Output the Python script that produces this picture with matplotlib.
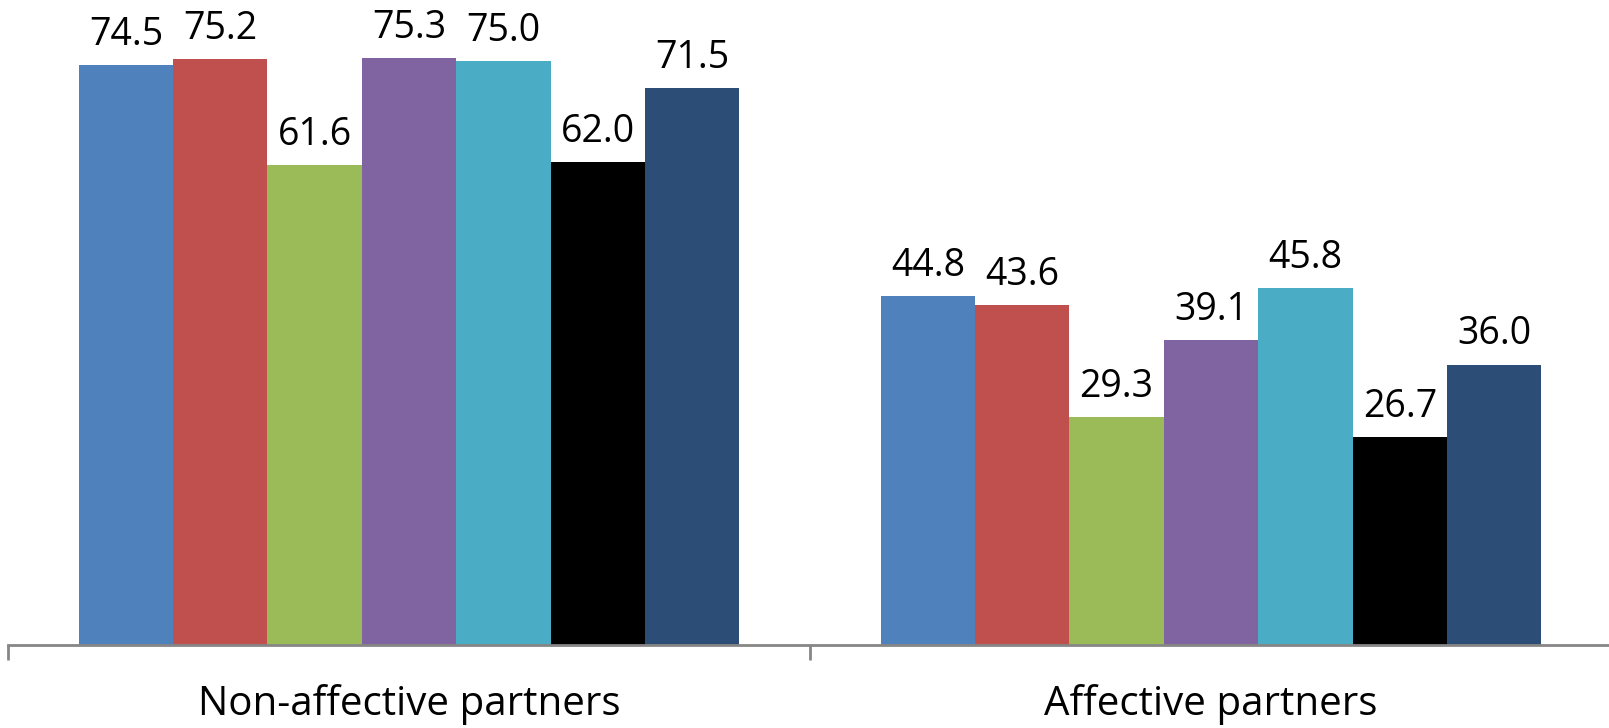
import numpy as np
import matplotlib.pyplot as plt

# Grouped bar chart: seven series over two partner types
categories = ['Non-affective partners', 'Affective partners']
series_values = [
    [74.5, 44.8],
    [75.2, 43.6],
    [61.6, 29.3],
    [75.3, 39.1],
    [75.0, 45.8],
    [62.0, 26.7],
    [71.5, 36.0],
]
colors = ['#4F81BD', '#C0504D', '#9BBB59', '#8064A2', '#4BACC6', '#000000', '#2C4D75']

W, H = 1609, 728
fig = plt.figure(figsize=(W / 100, H / 100), dpi=100)
# axis line sits at y=645px, spans x=8..1612px
ax = fig.add_axes([8 / W, (H - 645) / H, 1604 / W, 645 / H])

x = np.arange(len(categories))
bar_w = 0.1177
n = len(series_values)
for i, vals in enumerate(series_values):
    pos = x + (i - (n - 1) / 2) * bar_w
    bars = ax.bar(pos, vals, width=bar_w, color=colors[i], edgecolor='none', clip_on=False)
    for xp, v in zip(pos, vals):
        ax.annotate(f'{v:.1f}', (xp, v), xytext=(0, 8), textcoords='offset points',
                    ha='center', va='bottom', fontsize=27, family='Open Sans',
                    color='black', annotation_clip=False)

ax.set_xlim(-0.5, 1.5)
ax.set_ylim(0, 645 / 7.79)

for s in ['top', 'right', 'left']:
    ax.spines[s].set_visible(False)
ax.spines['bottom'].set_color('#868686')
ax.spines['bottom'].set_linewidth(2)
ax.set_yticks([])

ax.set_xticks([-0.5, 0.5, 1.5])
ax.set_xticklabels([])
ax.tick_params(axis='x', length=11, width=2, color='#868686')
ax.set_xticks(x, minor=True)
ax.set_xticklabels(categories, minor=True, fontsize=29, family='Open Sans')
ax.tick_params(axis='x', which='minor', length=0, pad=28)

fig.savefig('out.png', dpi=100)
